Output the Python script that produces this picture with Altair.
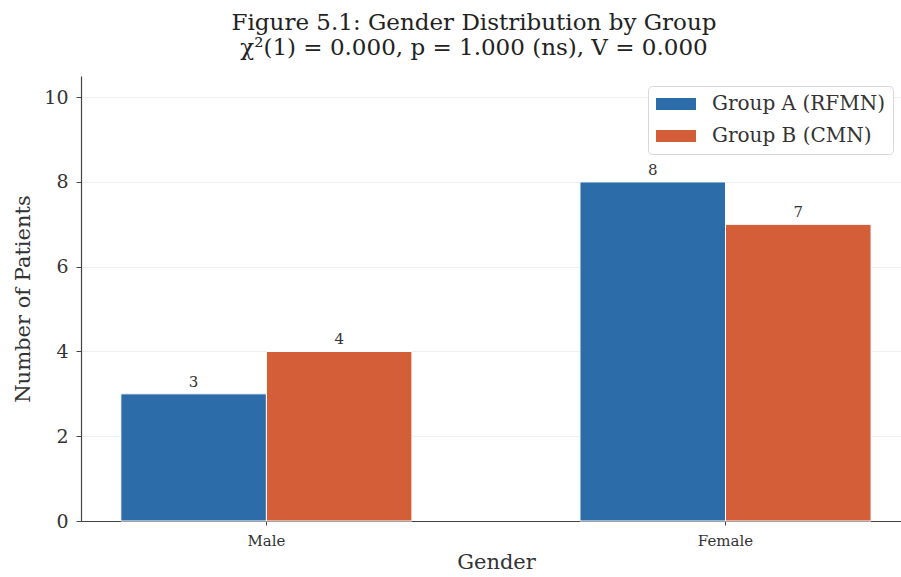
import altair as alt
import pandas as pd

genders = ["Male", "Female"]
groups = ["Group A (RFMN)", "Group B (CMN)"]
group_a = [3, 8]
group_b = [4, 7]
colors = ["#2C6CA9", "#D35E37"]
y_ticks = [0, 2, 4, 6, 8, 10]

rows = []
for i, g in enumerate(genders):
    rows.append({"Gender": g, "Group": groups[0], "Count": group_a[i]})
    rows.append({"Gender": g, "Group": groups[1], "Count": group_b[i]})
df = pd.DataFrame(rows)

FONT = "DejaVu Serif"

x_enc = alt.X("Gender:N", sort=genders,
              scale=alt.Scale(paddingInner=0.366, paddingOuter=0.076, align=0.571),
              axis=alt.Axis(title="Gender", labelAngle=0, labelFontSize=15,
                            titleFontSize=21, titlePadding=3, tickSize=4,
                            labelPadding=8, titleX=415))
xo_enc = alt.XOffset("Group:N", sort=groups, scale=alt.Scale(paddingInner=0))
y_scale = alt.Scale(domain=[0, 10.5], nice=False)

bars = alt.Chart(df).mark_bar(stroke="white", strokeWidth=1).encode(
    x=x_enc,
    xOffset=xo_enc,
    y=alt.Y("Count:Q", scale=y_scale,
            axis=alt.Axis(title="Number of Patients", values=y_ticks,
                          labelFontSize=19, titleFontSize=21, tickSize=5,
                          labelPadding=8, titlePadding=10, grid=True,
                          gridColor="#efefef")),
    color=alt.Color("Group:N", sort=groups,
                    scale=alt.Scale(domain=groups, range=colors),
                    legend=alt.Legend(title=None, orient="none", legendX=567,
                                      legendY=10, labelFontSize=20,
                                      labelFont=FONT, labelColor="#333333",
                                      labelLimit=400,
                                      symbolType="M-1,-0.6L3,-0.6L3,0.6L-1,0.6Z",
                                      symbolSize=400, symbolStrokeWidth=0,
                                      rowPadding=12, padding=8,
                                      fillColor="white", strokeColor="#d8d8d8",
                                      cornerRadius=4, labelOffset=36)),
)

labels = alt.Chart(df).mark_text(baseline="bottom", dy=-4, fontSize=15,
                                 font=FONT, color="#333333").encode(
    x=x_enc,
    xOffset=xo_enc,
    y=alt.Y("Count:Q", scale=y_scale),
    text=alt.Text("Count:Q"),
)

chart = (bars + labels).properties(
    width=820,
    height=445,
    background="white",
    title=alt.Title(["Figure 5.1: Gender Distribution by Group",
                     "χ²(1) = 0.000, p = 1.000 (ns), V = 0.000"],
                    fontSize=23, font=FONT, fontWeight="normal",
                    color="#222222", lineHeight=25, offset=16, dx=-17),
    autosize=alt.AutoSizeParams(type="none"),
    padding={"left": 81, "top": 76, "right": 0, "bottom": 54},
).configure_view(stroke=None).configure_axis(
    labelFont=FONT, titleFont=FONT, titleFontWeight="normal",
    labelColor="#333333", titleColor="#333333",
    domainColor="#444444", tickColor="#444444", domainWidth=1.2,
)

chart.save("out.html", embed_options={"renderer": "svg", "actions": False})
